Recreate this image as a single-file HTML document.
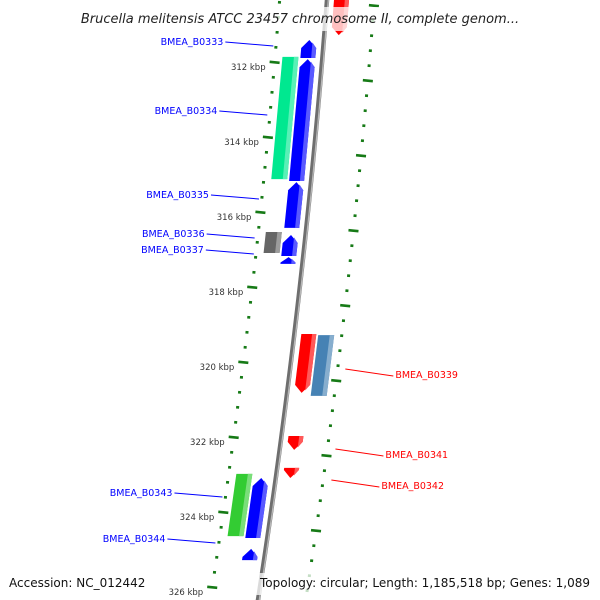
<!DOCTYPE html>
<html><head><meta charset="utf-8"><style>
html,body{margin:0;padding:0;background:#fff;width:600px;height:600px;overflow:hidden;}
svg{display:block;font-family:"DejaVu Sans","Liberation Sans",sans-serif;}
</style></head><body>
<svg id="map" width="600" height="600" viewBox="0 0 600 600" xmlns="http://www.w3.org/2000/svg">
<g id="ticks"></g>
<g id="backbone"></g>
<g id="genes"></g>
<g id="labels"></g>
<rect x="66" y="7" width="468" height="24" fill="#fff" fill-opacity="0.75"/>
<text x="300" y="23" text-anchor="middle" font-size="13" font-style="italic" fill="#222">Brucella melitensis ATCC 23457 chromosome II, complete genom...</text>
<rect x="5" y="573" width="145" height="20" fill="#fff" fill-opacity="0.75"/>
<rect x="256" y="573" width="338" height="22" fill="#fff" fill-opacity="0.75"/>
<text x="9" y="587" font-size="12" fill="#111">Accession: NC_012442</text>
<text x="260" y="587" font-size="12" textLength="330" fill="#111">Topology: circular; Length: 1,185,518 bp; Genes: 1,089</text>
</svg>
<script>
const geneNames=["BMEA_B0332","BMEA_B0333","BMEA_B0334","BMEA_B0334b","BMEA_B0335","BMEA_B0336","BMEA_B0337","BMEA_B0338","BMEA_B0339","BMEA_B0340","BMEA_B0341","BMEA_B0342","BMEA_B0343b","BMEA_B0343","BMEA_B0344"];
const geneStart=[310.08,311.28,311.79,311.73,315.07,316.40,316.48,317.07,319.12,319.15,321.84,322.69,322.85,322.96,324.85];
const geneEnd=[311.15,311.76,315.04,314.99,316.29,316.96,317.04,317.25,320.69,320.77,322.21,322.96,324.51,324.56,325.15];
const geneStrand=[1,-1,-1,-1,-1,-1,-1,-1,1,1,1,1,-1,-1,-1];
const geneRing=[1,1,1,2,1,2,1,1,1,2,1,1,2,1,1];
const geneColor=["#ff0000","#0000ff","#0000ff","#00e890","#0000ff","#666666","#0000ff","#0000ff","#ff0000","#4682b4","#ff0000","#ff0000","#33cc33","#0000ff","#0000ff"];
const labelNames=["BMEA_B0333","BMEA_B0334","BMEA_B0335","BMEA_B0336","BMEA_B0337","BMEA_B0343","BMEA_B0344","BMEA_B0339","BMEA_B0341","BMEA_B0342"];
const labelKbp=[311.45,313.3,315.6,316.7,316.9,323.6,324.9,320.0,322.05,322.85];
const labelSide=[-1,-1,-1,-1,-1,-1,-1,1,1,1];
const labelRow=[41,110,194,233,249,492,538,374,454,485];
const tickMajor=[310,312,314,316,318,320,322,324,326];
const tickLabels=["310 kbp","312 kbp","314 kbp","316 kbp","318 kbp","320 kbp","322 kbp","324 kbp","326 kbp"];

const NS="http://www.w3.org/2000/svg";
function yOf(k){return 67+(k-312)*37.5;}
function bx(y){return 327-0.0762*y-6.47e-5*y*y;}
function mk(tag,attrs,parent){const e=document.createElementNS(NS,tag);for(const a in attrs)e.setAttribute(a,attrs[a]);parent.appendChild(e);return e;}

const bb=document.getElementById('backbone');
let d="";for(let y=-5;y<=605;y+=5){d+=(y===-5?"M":"L")+(bx(y)).toFixed(2)+","+y;}
let p=mk('path',{d:d,fill:'none',stroke:'#6e6e6e','stroke-width':4.5},bb);


let d2="";for(let y=-5;y<=605;y+=5){d2+=(y===-5?"M":"L")+(bx(y)+1.3).toFixed(2)+","+y;}
p=mk('path',{d:d2,fill:'none',stroke:'#b8b8b8','stroke-width':1.3},bb);



const tg=document.getElementById('ticks');
const tc="#167a16";
function tick(y,o1,o2,w,name){if(y<-5||y>605)return;const x=bx(y);const l=mk('line',{x1:x+o1,y1:y+(o1)*0.1,x2:x+o2,y2:y+o2*0.1,stroke:tc,'stroke-width':w},tg);
 
 }
for(let i=0;i<tickMajor.length;i++){
 for(let j=0;j<5;j++){
  const k=tickMajor[i]+j*0.4;
  const y=yOf(k);
  if(j===0){tick(y,-52,-42,2.6,'inner-major-tick');}
  else tick(y,-48.5,-45.5,2.6,'inner-minor-tick');
  const y2=y+9;
  if(j===0){tick(y2,42,52,2.6,'outer-major-tick');}
  else tick(y2,45.5,48.5,2.6,'outer-minor-tick');
 }
 const y=yOf(tickMajor[i]);
 if(y<0)continue;
 const t=mk('text',{x:bx(y)-56,y:y+3,'text-anchor':'end','font-size':8.5,fill:'#333'},tg);
 t.textContent=tickLabels[i];
 
 
}

const gg=document.getElementById('genes');
function lighten(c){const n=parseInt(c.slice(1),16);let r=n>>16,g=(n>>8)&255,b=n&255;r=Math.round(r+(255-r)*0.35);g=Math.round(g+(255-g)*0.35);b=Math.round(b+(255-b)*0.35);return`rgb(${r},${g},${b})`;}
function pt(y,o){return (bx(y)+o).toFixed(2)+","+y.toFixed(2);}
for(let i=0;i<geneNames.length;i++){
 const ys=yOf(geneStart[i]),ye=yOf(geneEnd[i]);
 const side=geneStrand[i];
 let o1,o2;
 if(geneRing[i]===1){o1=7;o2=22;}else{o1=24;o2=40;}
 if(side<0){const a=-o2,b=-o1;o1=a;o2=b;}
 const len=ye-ys;
 const arrow=geneRing[i]===1;
 const h=Math.min(8,len*0.8);
 const om=(o1+o2)/2;
 let pts;
 if(!arrow){pts=[pt(ys,o1),pt(ys,o2),pt(ye,o2),pt(ye,o1)];}
 else if(side<0){pts=[pt(ye,o1),pt(ye,o2),pt(ys+h,o2),pt(ys,om),pt(ys+h,o1)];}
 else{pts=[pt(ys,o1),pt(ys,o2),pt(ye-h,o2),pt(ye,om),pt(ye-h,o1)];}
 const g=mk('polygon',{points:pts.join(' '),fill:geneColor[i]},gg);
 
 
 const s1=o2-(o2-o1)*0.28,s2=o2;
 let sp;
 if(!arrow){sp=[pt(ys,s1),pt(ys,s2),pt(ye,s2),pt(ye,s1)];}
 else if(side<0){sp=[pt(ye,s1),pt(ye,s2),pt(ys+h,s2),pt(ys+h*0.3,s1)];}
 else{sp=[pt(ys,s1),pt(ys,s2),pt(ye-h,s2),pt(ye-h*0.3,s1)];}
 const s=mk('polygon',{points:sp.join(' '),fill:lighten(geneColor[i])},gg);
 
 
}

const lg=document.getElementById('labels');
for(let i=0;i<labelNames.length;i++){
 const y=yOf(labelKbp[i]);
 const ty=labelRow[i];
 const col=labelSide[i]<0?'#0000ff':'#ff0000';
 let x1,x2,tx,anchor;
 if(labelSide[i]<0){x2=bx(y)-50;x1=x2-48;tx=x1-2;anchor='end';}
 else{x1=bx(y)+55;x2=x1+48;tx=x2+2;anchor='start';}
 const ly=labelSide[i]<0?[ty+1,ty+5]:[ty-5,ty+2];
 const l=mk('line',{x1:x1,y1:ly[0],x2:x2,y2:ly[1],stroke:col,'stroke-width':1},lg);
 
 
 const t=mk('text',{x:tx,y:ty+4,'text-anchor':anchor,'font-size':9.5,fill:col},lg);
 t.textContent=labelNames[i];
 
 
}
</script>
</body></html>
